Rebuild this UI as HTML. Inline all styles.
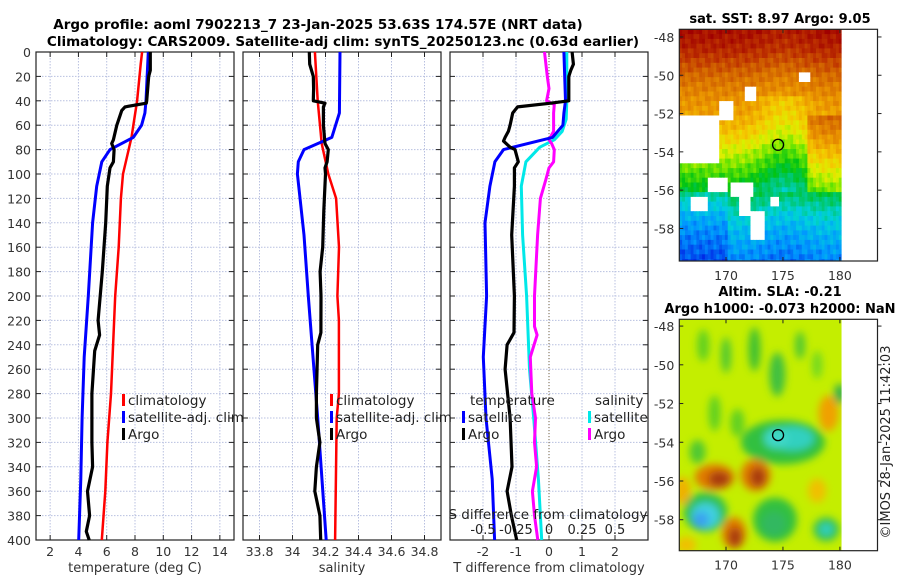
<!DOCTYPE html>
<html><head><meta charset="utf-8"><style>
body{margin:0;background:#fff;}
svg text{font-family:"DejaVu Sans","Liberation Sans",sans-serif;}
</style></head><body>
<svg id="c" width="900" height="580" xmlns="http://www.w3.org/2000/svg">
<defs>
<filter id="blur" x="-50%" y="-50%" width="200%" height="200%"><feGaussianBlur stdDeviation="4"/></filter>
<clipPath id="clipsla"><rect x="679.3" y="319.3" width="162.4" height="231.4"/></clipPath>
<clipPath id="clipsst"><rect x="679.3" y="29.3" width="162.4" height="231.7"/></clipPath>
</defs>
<text x="318" y="29" text-anchor="middle" font-size="13.5" font-weight="bold">Argo profile: aoml 7902213_7 23-Jan-2025 53.63S 174.57E (NRT data)</text>
<text x="343" y="46" text-anchor="middle" font-size="13.5" font-weight="bold">Climatology: CARS2009. Satellite-adj clim: synTS_20250123.nc (0.63d earlier)</text>
<text x="780" y="23" text-anchor="middle" font-size="13" font-weight="bold">sat. SST: 8.97 Argo: 9.05</text>
<text x="780" y="296" text-anchor="middle" font-size="13" font-weight="bold">Altim. SLA: -0.21</text>
<text x="780" y="313" text-anchor="middle" font-size="13" font-weight="bold">Argo h1000: -0.073 h2000: NaN</text>
<text transform="translate(890,442) rotate(-90)" text-anchor="middle" font-size="13" fill="#222">©IMOS 28-Jan-2025 11:42:03</text>
</svg>
<script>
// ---------- profile data (depth in m) ----------
const depthTick = [0,20,40,60,80,100,120,140,160,180,200,220,240,260,280,300,320,340,360,380,400];
const tempTicks = [2,4,6,8,10,12,14];
const salTicks = [33.8,34,34.2,34.4,34.6,34.8];
const diffTicks = [-2,-1,0,1,2];
const sdiffTicks = [-0.5,-0.25,0,0.25,0.5];
const sdiffLabels = ["-0.5","-0.25","0","0.25","0.5"];

const climTD = [0,10,40,70,100,120,160,200,240,280,320,360,400];
const climT  = [8.5,8.4,8.15,7.75,7.15,7.0,6.85,6.6,6.45,6.3,6.05,5.9,5.65];
const satTD  = [0,40,50,60,70,80,90,110,140,200,250,300,350,400];
const satT   = [8.94,8.78,8.7,8.47,7.88,6.23,5.65,5.29,5.0,4.7,4.41,4.26,4.17,4.02];
const argoTD = [0,15,20,40,42,45,48,60,72,75,80,90,95,110,140,180,200,220,232,245,280,320,340,360,380,393,400];
const argoT  = [9.08,9.08,8.97,8.83,8.8,7.29,7.06,6.71,6.47,6.35,6.52,6.47,6.23,6.04,5.93,5.69,5.54,5.39,5.5,5.15,4.95,4.95,5.0,4.64,4.79,4.56,4.76];

const climSD = [0,40,75,100,120,160,200,220,280,300,400];
const climS  = [34.136,34.153,34.177,34.217,34.264,34.282,34.272,34.281,34.281,34.268,34.258];
const satSD  = [0,50,70,80,90,100,150,200,300,400];
const satS   = [34.288,34.284,34.238,34.07,34.035,34.03,34.07,34.096,34.153,34.204];
const argoSD = [0,10,20,30,40,42,45,60,75,80,90,95,100,130,160,180,200,230,240,280,300,320,340,360,380,400];
const argoS  = [34.102,34.104,34.126,34.128,34.126,34.197,34.187,34.187,34.197,34.217,34.21,34.197,34.2,34.19,34.183,34.167,34.173,34.172,34.153,34.145,34.145,34.166,34.145,34.135,34.166,34.171];

const dSatTD = [0,40,50,60,70,80,90,110,140,200,250,300,350,400];
const dSatT  = [0.45,0.5,0.45,0.42,0.11,-1.38,-1.64,-1.79,-1.94,-1.89,-1.99,-1.91,-1.72,-1.65];
const dArgoTD = [0,10,15,20,40,42,45,50,60,65,70,73,78,80,90,95,110,150,200,230,240,260,300,340,360,380,400];
const dArgoT  = [0.7,0.74,0.66,0.6,0.6,0.05,-0.95,-1.1,-1.18,-1.23,-1.33,-1.38,-1.18,-1.03,-0.93,-1.05,-1.05,-1.13,-1.05,-1.06,-1.27,-1.33,-1.18,-1.12,-1.27,-1.14,-0.98];
const dSatSD = [0,40,55,65,72,78,90,110,150,200,260,300,350,400];
const dSatS  = [0.135,0.135,0.13,0.1,0.04,-0.07,-0.175,-0.21,-0.2,-0.17,-0.148,-0.116,-0.08,-0.055];
const dArgoSD = [0,20,30,40,43,50,65,72,75,80,90,95,105,120,150,200,225,232,250,280,300,320,340,360,380,400];
const dArgoS  = [-0.034,-0.013,0,-0.018,0.04,0.035,0.035,0,0.02,0.04,0.035,0,-0.025,-0.065,-0.086,-0.11,-0.11,-0.09,-0.142,-0.13,-0.102,-0.11,-0.094,-0.126,-0.11,-0.085];

const svg = document.getElementById('c');
const NS = 'http://www.w3.org/2000/svg';
function mk(tag, attrs, parent){const e=document.createElementNS(NS,tag);for(const k in attrs)e.setAttribute(k,attrs[k]);(parent||svg).appendChild(e);return e;}

const TOP=52, BOT=540;
const yD = d => TOP + d*(BOT-TOP)/400;
const panels = [
  {x0:36, x1:234, lo:1, hi:15, ticks:tempTicks, name:'temperature-panel', label:'temperature (deg C)'},
  {x0:243, x1:441, lo:33.7, hi:34.9, ticks:salTicks, name:'salinity-panel', label:'salinity'},
  {x0:450, x1:648, lo:-3, hi:3, ticks:diffTicks, name:'difference-panel', label:'T difference from climatology'}
];
panels.forEach(p => { p.sx = v => p.x0 + (v-p.lo)*(p.x1-p.x0)/(p.hi-p.lo); });
const sxS = v => panels[2].sx(v*4);

panels.forEach((p,pi) => {
  const g = mk('g',{});
  
  
  depthTick.forEach(d => { if(d>0&&d<400){ const l=mk('line',{x1:p.x0,x2:p.x1,y1:yD(d),y2:yD(d),stroke:'#b8c0e0','stroke-width':1,'stroke-dasharray':'1.5,1.5'},g);
      }
    mk('line',{x1:p.x0,x2:p.x0+5,y1:yD(d),y2:yD(d),stroke:'#222'},g);
    mk('line',{x1:p.x1,x2:p.x1-5,y1:yD(d),y2:yD(d),stroke:'#222'},g);
  });
  p.ticks.forEach((t,i) => { const x=p.sx(t);
    const l=mk('line',{x1:x,x2:x,y1:TOP,y2:BOT,stroke:'#b8c0e0','stroke-width':1,'stroke-dasharray':'1.5,1.5'},g);
     
    mk('line',{x1:x,x2:x,y1:BOT,y2:BOT-5,stroke:'#222'},g);
    mk('line',{x1:x,x2:x,y1:TOP,y2:TOP+5,stroke:'#222'},g);
    const tx=mk('text',{x:x,y:556,'text-anchor':'middle','font-size':12.5,fill:'#333'},g); tx.textContent=t;
     
  });
  const lab=mk('text',{x:(p.x0+p.x1)/2,y:572,'text-anchor':'middle','font-size':13,fill:'#333'},g); lab.textContent=p.label;
   
  const fr=mk('rect',{x:p.x0,y:TOP,width:p.x1-p.x0,height:BOT-TOP,fill:'none',stroke:'#222','stroke-width':1.2},g);
   
});
depthTick.forEach(d => { const t=mk('text',{x:31,y:yD(d)+5,'text-anchor':'end','font-size':12.5,fill:'#333'}); t.textContent=d;
    });
const zl = mk('line',{x1:panels[2].sx(0),x2:panels[2].sx(0),y1:TOP,y2:BOT,stroke:'#776644','stroke-width':1,'stroke-dasharray':'1,2'});
 

function series(ds, vs, sx, color, w, name){
  const pts = ds.map((d,i)=> sx(vs[i]).toFixed(1)+','+yD(d).toFixed(1)).join(' ');
  const l = mk('polyline',{points:pts,fill:'none',stroke:color,'stroke-width':w,'stroke-linejoin':'round'});
  
  
}
series(climTD, climT, panels[0].sx, '#ff0000', 2.5, 'temp-climatology-line');
series(satTD, satT, panels[0].sx, '#0000ff', 3, 'temp-satellite-line');
series(argoTD, argoT, panels[0].sx, '#000', 3.2, 'temp-argo-line');
series(climSD, climS, panels[1].sx, '#ff0000', 2.5, 'sal-climatology-line');
series(satSD, satS, panels[1].sx, '#0000ff', 3, 'sal-satellite-line');
series(argoSD, argoS, panels[1].sx, '#000', 3.2, 'sal-argo-line');
series(dSatSD, dSatS, sxS, '#00e8e8', 3, 'sdiff-satellite-line');
series(dArgoSD, dArgoS, sxS, '#ff00ff', 3, 'sdiff-argo-line');
series(dSatTD, dSatT, panels[2].sx, '#0000ff', 3, 'tdiff-satellite-line');
series(dArgoTD, dArgoT, panels[2].sx, '#000', 3.2, 'tdiff-argo-line');

function legend(x, y, color, label, name){
  const g = mk('g',{});
  
  
  mk('rect',{x:x,y:y-11,width:3,height:12,fill:color},g);
  const t=mk('text',{x:x+6,y:y,'font-size':13.5,fill:'#222'},g); t.textContent=label;
}
legend(122,405,'#ff0000','climatology','legend-entry-climatology');
legend(122,422,'#0000ff','satellite-adj. clim','legend-entry-satellite');
legend(122,439,'#000','Argo','legend-entry-argo');
legend(330,405,'#ff0000','climatology','legend-entry-climatology');
legend(330,422,'#0000ff','satellite-adj. clim','legend-entry-satellite');
legend(330,439,'#000','Argo','legend-entry-argo');
const th=mk('text',{x:470,y:405,'font-size':13.5,fill:'#222'}); th.textContent='temperature';
 
const sh=mk('text',{x:595,y:405,'font-size':13.5,fill:'#222'}); sh.textContent='salinity';
 
legend(462,422,'#0000ff','satellite','legend-entry-t-satellite');
legend(462,439,'#000','Argo','legend-entry-t-argo');
legend(588,422,'#00e8e8','satellite','legend-entry-s-satellite');
legend(588,439,'#ff00ff','Argo','legend-entry-s-argo');
const st=mk('text',{x:548,y:519,'text-anchor':'middle','font-size':13.5,fill:'#222'}); st.textContent='S difference from climatology';
 
sdiffTicks.forEach((v,i)=>{ const t=mk('text',{x:sxS(v),y:534,'text-anchor':'middle','font-size':13,fill:'#222'}); t.textContent=sdiffLabels[i];
    });

// ---------- maps ----------
const lonTicks = [170,175,180];
const latTicks = [-48,-50,-52,-54,-56,-58];
const argoLon = 174.57, argoLat = -53.63;
function mapAxes(top, bot, latTop, latBot, name){
  const L=679.3, R=877.5, lonL=165.9, lonR=183.3;
  const mx = lon => L + (lon-lonL)*(R-L)/(lonR-lonL);
  const my = lat => top + (latTop-lat)*(bot-top)/(latTop-latBot);
  return {L,R,top,bot,mx,my,name};
}
function cmap(v){
  const st=[[0,[0,40,230]],[0.12,[0,150,255]],[0.22,[0,210,220]],[0.3,[0,200,120]],[0.38,[0,195,20]],[0.47,[110,230,0]],[0.55,[220,240,0]],[0.63,[245,200,0]],[0.72,[235,150,0]],[0.82,[210,100,0]],[0.9,[190,50,0]],[1,[160,0,0]]];
  v=Math.max(0,Math.min(1,v));
  for(let i=1;i<st.length;i++){ if(v<=st[i][0]){ const a=st[i-1],b=st[i],f=(v-a[0])/(b[0]-a[0]);
    return 'rgb('+[0,1,2].map(k=>Math.round(a[1][k]+f*(b[1][k]-a[1][k]))).join(',')+')'; } }
  return 'rgb(160,0,0)';
}
const sstLat = [-47.6,-48.5,-49.3,-50,-51,-52,-53,-54,-55,-56,-57,-58,-59.7];
const sstVal = [0.97,0.93,0.86,0.8,0.74,0.7,0.63,0.53,0.44,0.35,0.25,0.18,0.1];
const sstHoles = [[165.9,-51.9,169.3,-54.4],[169.3,-51.2,170.5,-52.2],[171.5,-50.6,172.5,-51.3],[168.3,-55.2,170,-56],[170.2,-55.4,172.3,-56.2],[172,-57,173.2,-58.6],[171,-56.3,172,-57.2],[173.8,-56.2,174.5,-56.8],[176.2,-49.7,177.3,-50.2],[166.9,-56.3,168.3,-57.1]];
function interp(xs, ys, x){ for(let i=1;i<xs.length;i++){ if(x>=xs[i]){ const f=(x-xs[i-1])/(xs[i]-xs[i-1]); return ys[i-1]+f*(ys[i]-ys[i-1]); } } return ys[ys.length-1]; }
(function(){
  const m = mapAxes(29.3, 261, -47.6, -59.7, 'sst-map');
  const g = mk('g',{});
  
  
  const inner = mk('g',{'clip-path':'url(#clipsst)'},g);
  const step=0.25;
  for(let lat=-47.6; lat>-59.8; lat-=step){
    for(let lon=165.9; lon<180.2; lon+=step){
      let v = interp(sstLat, sstVal, lat);
      const tongue = Math.exp(-Math.pow((lon-175)/2.3,2)) * (lat<-51 && lat>-56 ? 0.1:0.03);
      v -= tongue;
      if(lat<-52 && lat>-56 && lon>177) v += 0.12;
      if(lat<-56 && lon<170) v -= 0.07;
      v += 0.025*Math.sin(lon*7.3+lat*3.1) + 0.02*Math.sin(lon*2.1-lat*9.7);
      let hole=false; sstHoles.forEach(h=>{ if(lon>=h[0]&&lon<h[2]&&lat<=h[1]&&lat>h[3]) hole=true; });
      const x=m.mx(lon), y=m.my(lat);
      mk('rect',{x:x.toFixed(1),y:y.toFixed(1),width:(step*11.4+0.4).toFixed(1),height:(step*19.15+0.4).toFixed(1),fill: hole?'#fff':cmap(v)},inner);
    }
  }
  mk('rect',{x:841.7,y:m.top,width:m.R-841.7,height:m.bot-m.top,fill:'#fff'},g);
  drawMapFrame(m, g);
})();
(function(){
  const m = mapAxes(319.3, 550.7, -47.65, -59.6, 'sla-map');
  const g = mk('g',{});
  
  
  const inner = mk('g',{'clip-path':'url(#clipsla)'},g);
  mk('rect',{x:m.L,y:m.top,width:162.4,height:231.4,fill:'#c4ee00'},inner);
  const bl = mk('g',{filter:'url(#blur)'},inner);
  const blobs = [
    [168,-49,6,16,'#60d020'],[170,-49.5,5,18,'#50c830'],[172.5,-49.2,6,22,'#40c030'],[174.5,-50.5,8,22,'#40c040'],[176.5,-49,5,14,'#50c830'],[178,-50,5,14,'#70d820'],
    [169,-52.5,6,18,'#60d020'],[171,-53,7,14,'#60d020'],[167.5,-54.5,8,12,'#50c830'],[180,-51.5,6,10,'#30b050'],
    [175,-54,42,22,'#30c040'],[175.8,-53.8,22,12,'#30d0c0'],[174.4,-53.8,12,10,'#40d8c8'],
    [179,-52.5,10,18,'#f0a000'],[178,-56.5,9,12,'#f0c000'],[166.2,-56.5,8,14,'#f0b000'],
    [169,-55.8,20,13,'#e07a00'],[169.4,-55.9,11,8,'#a83a10'],[172.6,-55.7,15,16,'#e07a00'],[172.8,-55.8,8,10,'#a83a10'],
    [170.7,-58.7,12,16,'#e07a00'],[170.8,-58.9,7,10,'#a83a10'],
    [168.2,-57.6,22,20,'#30c050'],[168.2,-57.8,14,13,'#40d0e0'],[167.8,-58,8,8,'#3aa0f0'],
    [174.3,-58,22,22,'#30c040'],[174.2,-58.2,12,12,'#30b860'],
    [178.8,-58.5,13,12,'#30c050'],[178.8,-58.5,7,6,'#30d0c0'],[166.5,-59.3,10,8,'#f0c000']
  ];
  blobs.forEach(b=>{ mk('ellipse',{cx:m.mx(b[0]),cy:m.my(b[1]),rx:b[2],ry:b[3],fill:b[4]},bl); });
  mk('rect',{x:841.7,y:m.top,width:m.R-841.7,height:m.bot-m.top,fill:'#fff'},g);
  drawMapFrame(m, g);
})();
function drawMapFrame(m, g){
  const c = mk('circle',{cx:m.mx(argoLon),cy:m.my(argoLat),r:5.5,fill:'none',stroke:'#000','stroke-width':1.3},g);
  
  
  mk('rect',{x:m.L,y:m.top,width:m.R-m.L,height:m.bot-m.top,fill:'none',stroke:'#222','stroke-width':1.2},g);
  lonTicks.forEach(t=>{ const x=m.mx(t);
    mk('line',{x1:x,x2:x,y1:m.bot,y2:m.bot-4,stroke:'#222'},g);
    mk('line',{x1:x,x2:x,y1:m.top,y2:m.top+4,stroke:'#222'},g);
    const tx=mk('text',{x:x,y:m.bot+19,'text-anchor':'middle','font-size':12.5,fill:'#333'},g); tx.textContent=t;
      });
  latTicks.forEach(t=>{ const y=m.my(t);
    mk('line',{x1:m.L,x2:m.L+4,y1:y,y2:y,stroke:'#222'},g);
    mk('line',{x1:m.R,x2:m.R+4,y1:y,y2:y,stroke:'#222'},g);
    const tx=mk('text',{x:m.L-5,y:y+5,'text-anchor':'end','font-size':12.5,fill:'#333'},g); tx.textContent=t;
      });
}
</script>
</body></html>
